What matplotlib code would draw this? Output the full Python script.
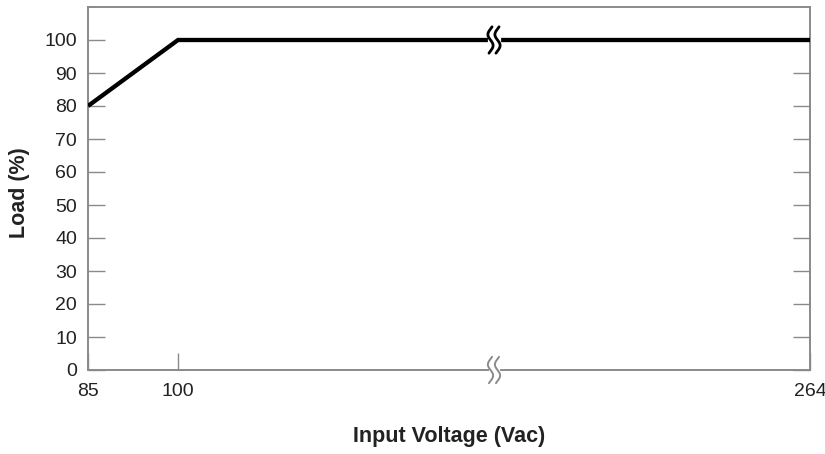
import numpy as np
import matplotlib
matplotlib.use('Agg')
from matplotlib import pyplot as plt
from matplotlib.transforms import IdentityTransform

# data
voltage = [85, 100, 264]
load = [80, 100, 100]
x_ticks = [85, 100, 264]
y_ticks = list(range(0, 101, 10))
break_v = 182  # where the axis is broken (nominal)

# piecewise axis: 85..100 is short, 100..264 is long
x_knots = [85, 100, 264]
x_pos = [0, 90, 722]

def fwd(v):
    return np.interp(v, x_knots, x_pos)

def inv(p):
    return np.interp(p, x_pos, x_knots)

plt.rcParams['font.family'] = ['Liberation Sans', 'DejaVu Sans']

fig = plt.figure(figsize=(8.25, 4.54), dpi=100)
ax = fig.add_axes([88/825, 84/454, 722/825, 363/454])
ax.set_xscale('function', functions=(fwd, inv))

spine_col = '#8a8a8a'
txt_col = '#222222'
ax.plot(voltage, load, color='black', lw=3.1, solid_capstyle='butt', solid_joinstyle='miter', zorder=3)

ax.set_xlim(85, 264)
ax.set_ylim(0, 110)
ax.set_xticks(x_ticks)
ax.set_xticklabels([str(v) for v in x_ticks])
ax.set_yticks(y_ticks)
ax.xaxis.set_minor_locator(matplotlib.ticker.NullLocator())

for s in ax.spines.values():
    s.set_color(spine_col)
    s.set_linewidth(1.4)

ax.tick_params(axis='both', direction='in', length=12, width=1, color=spine_col,
               labelsize=14, labelcolor=txt_col)
ax.tick_params(axis='y', right=True, pad=8)
ax.tick_params(axis='x', pad=9)

ax.set_xlabel('Input Voltage (Vac)', fontsize=15.5, fontweight='bold', color=txt_col, labelpad=19)
ax.set_ylabel('Load (%)', fontsize=15.5, fontweight='bold', color=txt_col, labelpad=10)
ax.yaxis.label.set_y(0.49)

# break marks (drawn in pixels around the break point)
fig.canvas.draw()

def break_mark(y_data, color, lw, gap_lw):
    cx, cy = ax.transData.transform((break_v, y_data))
    # white gap in the line
    ax.add_line(plt.Line2D([cx - 3.5, cx + 3.5], [cy, cy], transform=IdentityTransform(),
                           color='white', lw=gap_lw, zorder=4, clip_on=False))
    t = np.linspace(-0.1, 1.1, 80)
    for dx in (-3.5, 3.5):
        xs = cx + dx - 2.6 * np.sin(2 * np.pi * t)
        ys = cy + 11 - 22 * t
        ax.add_line(plt.Line2D(xs, ys, transform=IdentityTransform(), color=color,
                               lw=lw, zorder=5, clip_on=False, solid_capstyle='round'))

break_mark(100, 'black', 2.0, 4.5)
break_mark(0, spine_col, 1.4, 3)

fig.savefig('out.png', dpi=100)
